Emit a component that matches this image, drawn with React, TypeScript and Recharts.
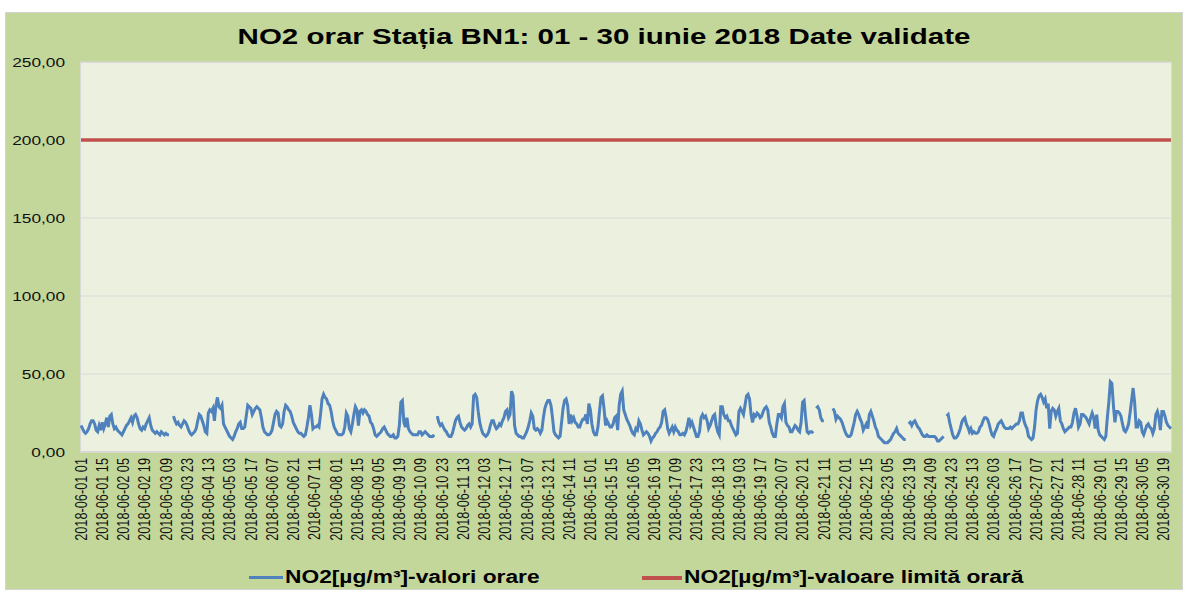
import React from 'react'
import { CartesianGrid, Line, LineChart, XAxis, YAxis } from 'recharts'

// NO2 hourly values, µg/m³ (null = missing hour)
const days01to05 = [
    17, 15, 13, 12, 13, 15, 18, 20, 20, 18, 14, 13, 17, 14, 19, 15, 18, 22, 16, 23, 24, 18, 15, 16,
    14, 13, 12, 11, 13, 15, 17, 18, 20, 22, 19, 23, 24, 22, 18, 15, 14, 16, 15, 18, 20, 22, 17, 14,
    13, 12, 13, 12, 11, 13, 12, 11, 12, 11, 11, null, null, 23, 20, 18, 19, 17, 16, 18, 20, 19, 17, 14,
    12, 11, 12, 13, 15, 20, 24, 23, 20, 17, 13, 12, 25, 27, 26, 28, 20, 30, 35, 29, 28, 30, 18, 16,
    14, 12, 10, 9, 8, 10, 13, 15, 18, 19, 15, 15, 16, 23, 30, 29, 28, 24, 26, 28, 29, 28, 27, 22,
]
const days06to10 = [
    16, 13, 12, 11, 11, 12, 14, 19, 24, 26, 25, 17, 16, 18, 26, 30, 29, 27, 26, 23, 19, 17, 15, 13,
    12, 12, 11, 10, 11, 16, 22, 30, 24, 15, 16, 16, 17, 16, 24, 34, 37, 35, 34, 31, 30, 26, 20, 16,
    14, 12, 11, 11, 11, 12, 16, 25, 23, 15, 13, 18, 24, 29, 27, 17, 26, 27, 25, 27, 26, 24, 23, 19,
    18, 15, 11, 10, 11, 12, 13, 15, 16, 14, 12, 11, 10, 10, 11, 9, 9, 10, 17, 32, 33, 19, 16, 22,
    15, 13, 12, 11, 11, 11, 11, 13, 13, 11, 12, 13, 12, 11, 10, 10, 10, 11, null, 23, 19, 17, 18, 16,
]
const days11to15 = [
    14, 13, 11, 10, 10, 12, 16, 20, 22, 23, 19, 16, 15, 14, 15, 17, 18, 16, 18, 36, 37, 35, 26, 19,
    15, 12, 11, 10, 11, 13, 17, 20, 20, 17, 15, 16, 18, 17, 20, 22, 26, 27, 22, 24, 39, 36, 17, 12,
    11, 10, 10, 9, 9, 11, 13, 16, 20, 25, 23, 15, 14, 15, 14, 12, 14, 22, 28, 31, 33, 33, 30, 22,
    13, 11, 10, 9, 10, 19, 28, 33, 34, 30, 18, 24, 20, 22, 19, 18, 16, 16, 19, 21, 21, 24, 18, 31,
    27, 18, 13, 11, 11, 16, 26, 35, 36, 28, 17, 20, 18, 16, 16, 18, 22, 23, 14, 30, 37, 39, 27, 24,
]
const days16to20 = [
    21, 19, 17, 14, 12, 11, 15, 14, 20, 18, 14, 11, 12, 13, 12, 10, 7, 9, 10, 12, 13, 15, 16, 19,
    26, 27, 22, 15, 12, 14, 16, 13, 16, 14, 13, 11, 11, 12, 11, 13, 17, 22, 17, 19, 16, 13, 10, 10,
    13, 22, 24, 22, 23, 20, 15, 17, 20, 23, 24, 17, 13, 11, 29, 29, 24, 22, 23, 20, 20, 17, 15, 13,
    11, 12, 26, 28, 26, 24, 30, 36, 37, 34, 24, 19, 24, 23, 25, 24, 22, 23, 26, 28, 29, 27, 19, 16,
    12, 10, 10, 18, 24, 24, 22, 29, 31, 19, 17, 16, 13, 13, 15, 17, 16, 14, 13, 19, 32, 33, 22, 13,
]
const days21to25 = [
    12, 13, 13, 12, null, 28, 29, 27, 22, 20, 20, null, null, null, null, null, 28, 26, 21, 23, 22, 21, 19, 16,
    13, 11, 10, 10, 11, 15, 19, 24, 26, 24, 21, 19, 14, 16, 18, 15, 24, 26, 23, 20, 16, 14, 10, 9,
    8, 7, 6, 6, 6, 7, 8, 10, 12, 13, 15, 12, 11, 10, 9, 8, 8, null, 18, 19, 17, 19, 20, 18,
    16, 15, 13, 11, 10, 10, 11, 10, 10, 10, 10, 10, 9, 7, 7, 8, 9, 10, null, 23, 24, 19, 15, 11,
    9, 9, 10, 12, 15, 19, 21, 22, 18, 16, 13, 15, 12, 13, 12, 12, 13, 16, 17, 20, 22, 22, 21, 18,
]
const days26to30 = [
    14, 11, 10, 13, 15, 18, 19, 20, 18, 16, 15, 15, 15, 16, 15, 16, 17, 18, 18, 20, 25, 25, 20, 17,
    15, 10, 9, 8, 9, 16, 27, 33, 36, 37, 35, 32, 34, 28, 31, 15, 26, 28, 27, 23, 26, 28, 20, 18,
    15, 13, 14, 15, 16, 16, 19, 25, 28, 23, 16, 18, 24, 24, 23, 22, 20, 18, 22, 25, 22, 15, 24, 14,
    11, 10, 9, 8, 10, 22, 32, 45, 44, 30, 19, 26, 26, 25, 23, 18, 14, 13, 15, 18, 25, 33, 41, 32,
    16, 16, 20, 19, 13, 11, 14, 17, 18, 16, 15, 12, 15, 24, 26, 22, 14, 26, 26, 23, 19, 17, 16, 15,
]

const limitValue = 200
const yTicks = [0, 50, 100, 150, 200, 250]

const hourly = [...days01to05, ...days06to10, ...days11to15, ...days16to20, ...days21to25, ...days26to30]

const pad = (n: number) => String(n).padStart(2, '0')
// hour labels run 01..24 for each day
const data = hourly.map((v, i) => ({
    time: `2018-06-${pad(Math.floor(i / 24) + 1)} ${pad((i % 24) + 1)}`,
    no2: v,
    limit: limitValue,
}))

const FONT = '"Liberation Sans", Arial, sans-serif'
const STRETCH = 1.3

const XTick = (props: any) => {
    const { x, y, payload } = props
    return (
        <g transform={`translate(${x},${y})`}>
            <text transform={`scale(${STRETCH},1) rotate(-90)`} textAnchor='end' dy='0.35em' fontSize={12.75} fill='#111' fontFamily={FONT}>
                {payload.value}
            </text>
        </g>
    )
}

const YTick = (props: any) => {
    const { x, y, payload } = props
    return (
        <g transform={`translate(${x},${y})`}>
            <text transform={`scale(${STRETCH},1)`} textAnchor='end' dy='0.35em' fontSize={13.3} fill='#111' fontFamily={FONT}>
                {Number(payload.value).toFixed(2).replace('.', ',')}
            </text>
        </g>
    )
}

const legendText: React.CSSProperties = {
    position: 'absolute',
    top: 566,
    fontSize: 17.5,
    fontWeight: 'bold',
    lineHeight: '22px',
    whiteSpace: 'nowrap',
    color: '#000',
    transform: `scaleX(${STRETCH})`,
    transformOrigin: 'left center',
}

const App = () => {
    return (
        <div style={{ position: 'absolute', left: 0, top: 0, width: 1189, height: 595, background: '#fff', fontFamily: FONT }}>
            <div style={{ position: 'absolute', left: 5, top: 12, width: 1178, height: 578, background: '#c4d79b', border: '1px solid #d4d4d4', boxSizing: 'border-box' }} />
            <div style={{ position: 'absolute', left: 80, top: 62, width: 1092, height: 390, background: '#ebf1de', border: '1px solid #d9d9d9', boxSizing: 'border-box' }} />
            <div style={{ position: 'absolute', left: 0, top: 22, width: 1208, textAlign: 'center', fontSize: 22.7, fontWeight: 'bold', lineHeight: '28px', color: '#000', transform: `scaleX(${STRETCH})`, transformOrigin: '604px center', whiteSpace: 'nowrap' }}>
                NO2 orar Stația BN1: 01 - 30 iunie 2018 Date validate
            </div>
            <div style={{ position: 'absolute', left: 0, top: 0 }}>
                <LineChart width={1189} height={595} data={data} margin={{ top: 62, right: 17, bottom: 0, left: 0 }}>
                    <CartesianGrid vertical={false} stroke='#d9d9d9' />
                    <XAxis dataKey='time' interval={13} height={143} tickSize={0} tickMargin={6} padding={{ left: 1, right: 1 }} axisLine={{ stroke: '#d9d9d9' }} tick={<XTick />} />
                    <YAxis domain={[0, 250]} ticks={yTicks} width={80} tickSize={0} tickMargin={15} axisLine={false} tick={<YTick />} />
                    <Line type='linear' dataKey='limit' stroke='#c0504d' strokeWidth={3.5} dot={false} isAnimationActive={false} />
                    <Line type='linear' dataKey='no2' stroke='#4f81bd' strokeWidth={3} dot={false} connectNulls={false} isAnimationActive={false} />
                </LineChart>
            </div>
            <div style={{ position: 'absolute', left: 249, top: 576, width: 34, height: 3, background: '#4f81bd' }} />
            <div style={{ ...legendText, left: 285 }}>NO2[µg/m³]-valori orare</div>
            <div style={{ position: 'absolute', left: 642, top: 576, width: 40, height: 4, background: '#c0504d' }} />
            <div style={{ ...legendText, left: 684 }}>NO2[µg/m³]-valoare limită orară</div>
        </div>
    )
}

export default App
